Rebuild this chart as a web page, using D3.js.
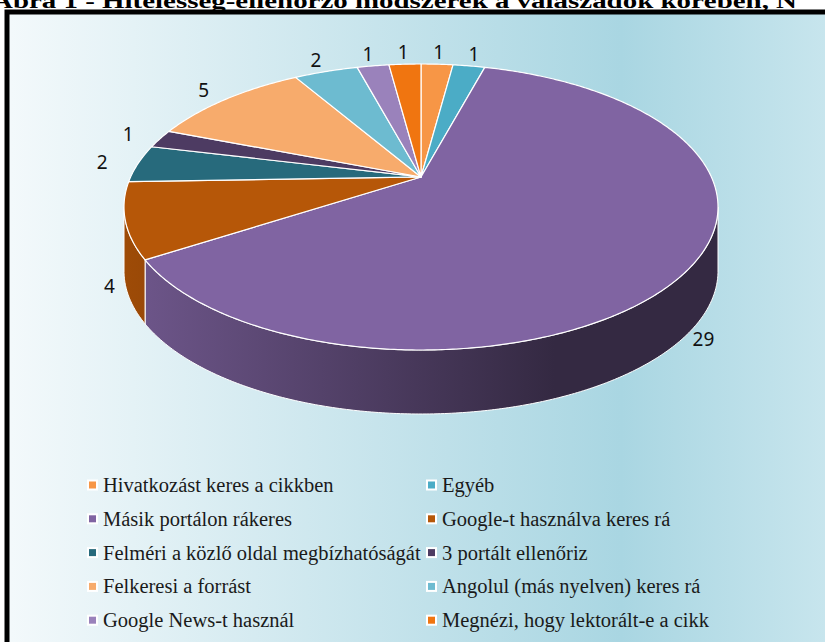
<!DOCTYPE html>
<html lang="hu">
<head>
<meta charset="UTF-8">
<title>Hitelesség-ellenőrző módszerek</title>
<script src="https://cdn.jsdelivr.net/npm/d3@7"></script>
<style>
  body { margin: 0; background: #fff; overflow: hidden; }
  svg { display: block; }
  .label { font-family: "Noto Sans", sans-serif; font-size: 19px; fill: #111; }
  .legend text { font-family: "Liberation Serif", "Times New Roman", serif; font-size: 20.5px; fill: #1a1a1a; }
</style>
</head>
<body>
<svg id="chart" width="825" height="642"></svg>
<script>
const title = 'Ábra 1 - Hitelesség-ellenőrző módszerek a válaszadók körében, N';
const categories = [
  'Hivatkozást keres a cikkben',
  'Egyéb',
  'Másik portálon rákeres',
  'Google-t használva keres rá',
  'Felméri a közlő oldal megbízhatóságát',
  '3 portált ellenőriz',
  'Felkeresi a forrást',
  'Angolul (más nyelven) keres rá',
  'Google News-t használ',
  'Megnézi, hogy lektorált-e a cikk'
];
const values = [1, 1, 29, 4, 2, 1, 5, 2, 1, 1];
const colors = ['#f79646', '#4bacc6', '#8064a2', '#b65708', '#276a7c', '#4d3b62', '#f7ab6c', '#6dbbd0', '#9a82bb', '#f07510'];

const svg = d3.select('#chart');
const defs = svg.append('defs');

// background of the chart area
const bg = defs.append('linearGradient').attr('id', 'bg')
  .attr('gradientUnits', 'userSpaceOnUse').attr('x1', 10).attr('x2', 825).attr('y1', 0).attr('y2', 0);
bg.append('stop').attr('offset', 0).attr('stop-color', '#f3f9fb');
bg.append('stop').attr('offset', 0.75).attr('stop-color', '#a9d6e2');
bg.append('stop').attr('offset', 1).attr('stop-color', '#c7e5ed');

svg.append('rect').attr('x', 7).attr('y', 12).attr('width', 900).attr('height', 700)
  .attr('fill', 'url(#bg)').attr('stroke', '#000').attr('stroke-width', 5);

svg.append('text')
  .attr('x', -8).attr('y', 8)
  .attr('textLength', 805).attr('lengthAdjust', 'spacingAndGlyphs')
  .style('font-family', '"Liberation Serif", serif').style('font-weight', 'bold').style('font-size', '20px')
  .text(title);

// 3D pie: circle seen in perspective, projected on an ellipse
const cx = 421, cy = 207, rx = 297, ry = 143, tilt = -0.21, depth = 64;
const k = Math.sqrt(1 - tilt * tilt);
function project(angle, r) {
  const u = r * Math.sin(angle), v = -r * Math.cos(angle);
  const d = 1 + tilt * v;
  return [cx + rx * u * k / d, cy + ry * (v + tilt) / d];
}
function arcPoints(a0, a1, r) {
  const n = Math.max(2, Math.ceil((a1 - a0) / 0.01));
  return d3.range(n + 1).map(i => project(a0 + (a1 - a0) * i / n, r));
}
const line = d3.line();
const arcs = d3.pie().sort(null).value(d => d)(values);
const center = project(0, 0);

// side walls, only the front part is visible
const vis0 = Math.acos(tilt), vis1 = 2 * Math.PI - Math.acos(tilt);
const sides = svg.append('g');
arcs.forEach((a, i) => {
  const s0 = Math.max(a.startAngle, vis0), s1 = Math.min(a.endAngle, vis1);
  if (s1 <= s0) return;
  const g = defs.append('linearGradient').attr('id', 'side' + i)
    .attr('gradientUnits', 'userSpaceOnUse').attr('x1', cx - rx).attr('x2', cx + rx * 0.45).attr('y1', 0).attr('y2', 0);
  g.append('stop').attr('offset', 0).attr('stop-color', d3.color(colors[i]).darker(0.4));
  g.append('stop').attr('offset', 1).attr('stop-color', d3.color(colors[i]).darker(2.5));
  const top = arcPoints(s0, s1, 1);
  const bottom = top.slice().reverse().map(p => [p[0], p[1] + depth]);
  sides.append('path')
    .attr('d', line(top.concat(bottom)) + 'Z')
    .attr('fill', `url(#side${i})`)
    .attr('stroke', '#fff').attr('stroke-width', 1).attr('stroke-linejoin', 'round');
});

// top faces
svg.append('g').selectAll('path')
  .data(arcs).enter().append('path')
  .attr('d', d => line([center].concat(arcPoints(d.startAngle, d.endAngle, 1))) + 'Z')
  .attr('fill', (d, i) => colors[i])
  .attr('stroke', '#fff').attr('stroke-width', 1.2).attr('stroke-linejoin', 'round');

// data labels
svg.append('g').selectAll('text')
  .data(arcs).enter().append('text')
  .attr('class', 'label')
  .attr('text-anchor', 'middle').attr('dominant-baseline', 'central')
  .each(function (d) {
    const m = (d.startAngle + d.endAngle) / 2;
    const front = -Math.cos(m) > 0;
    const p = project(m, front ? 1.05 : 1.13);
    d3.select(this).attr('x', p[0]).attr('y', p[1] + (front ? depth : 0));
  })
  .text(d => d.value);

// legend, two columns
const colX = [87, 426], rowY = 485, rowStep = 33.8;
const legend = svg.append('g').attr('class', 'legend')
  .selectAll('g').data(categories).enter().append('g')
  .attr('transform', (d, i) => `translate(${colX[i % 2]},${rowY + Math.floor(i / 2) * rowStep})`);
legend.append('rect').attr('x', 0).attr('y', -5.5).attr('width', 11).attr('height', 11).attr('fill', '#fff');
legend.append('rect').attr('x', 2).attr('y', -3.5).attr('width', 7).attr('height', 7).attr('fill', (d, i) => colors[i]);
legend.append('text').attr('x', 16).attr('y', 7).text(d => d);
</script>
</body>
</html>
